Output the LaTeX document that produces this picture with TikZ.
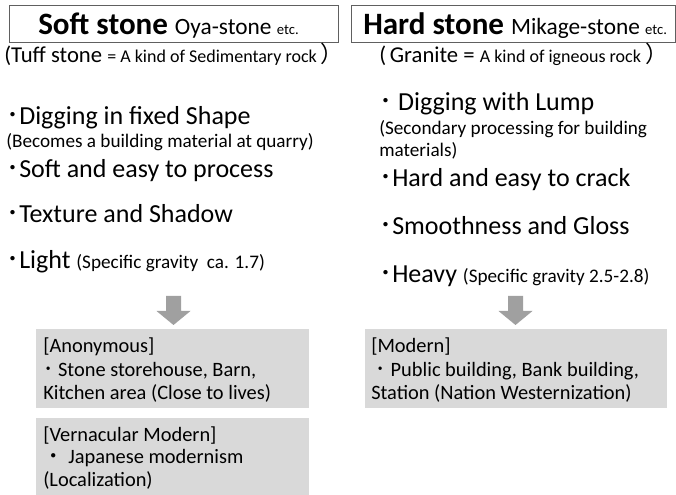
\documentclass[tikz,border=0pt]{standalone}
\usepackage{fontspec}
\setmainfont{Carlito}
\newfontfamily\cjk{Noto Sans CJK JP}
\definecolor{boxgray}{HTML}{D9D9D9}
\definecolor{arrowgray}{HTML}{A0A0A0}
\definecolor{framegray}{HTML}{606060}
\newcommand{\hdot}{{\cjk ･}}
\newcommand{\fdot}{{\cjk ・}}
\begin{document}
\begin{tikzpicture}[x=0.75pt,y=-0.75pt,
  txt/.style={inner sep=0pt, anchor=base west},
  main/.style={txt, font=\fontsize{19.5}{23}\selectfont},
  sub/.style={txt, font=\fontsize{14.4}{17}\selectfont},
  btext/.style={txt, font=\fontsize{15.3}{18}\selectfont},
  grayblock/.style={fill=boxgray, draw=none, inner sep=0pt, anchor=north west, rectangle},
  titleframe/.style={draw=framegray, line width=0.9pt, inner sep=0pt, anchor=north west, rectangle},
  blockarrow/.style={fill=arrowgray, draw=none}]
\useasboundingbox (0,0) rectangle (676,495);
\fill[white] (0,0) rectangle (676,495);

% title frames
\node[titleframe, minimum width=246.75pt, minimum height=27.75pt] (lframe) at (8.5,5) {};
\node[titleframe, minimum width=243pt, minimum height=27.75pt] (rframe) at (351,5) {};
\node[txt] (ltitle) at (38,35) {{\fontsize{23.3}{26}\selectfont\bfseries Soft stone }{\fontsize{17.5}{20}\selectfont Oya-stone }{\fontsize{11}{13}\selectfont etc.}};
\node[txt] (rtitle) at (363,35) {{\fontsize{23.3}{26}\selectfont\bfseries Hard stone }{\fontsize{17.5}{20}\selectfont Mikage-stone }{\fontsize{11}{13}\selectfont etc.}};

% subtitles
\node[txt] (lsub) at (4,63) {{\fontsize{17}{20}\selectfont(Tuff stone }{\fontsize{13.5}{16}\selectfont = A kind of Sedimentary rock }{\fontsize{17}{20}\selectfont\cjk ）}};
\node[txt] (rsub) at (379,63) {{\fontsize{17}{20}\selectfont(\,Granite = }{\fontsize{13.5}{16}\selectfont A kind of igneous rock }{\fontsize{17}{20}\selectfont\cjk ）}};

% left column
\node[main] (l1) at (6,125) {\hdot Digging in fixed Shape};
\node[sub] (l1s) at (6,148) {(Becomes a building material at quarry)};
\node[main] (l2) at (6,178) {\hdot Soft and easy to process};
\node[main] (l3) at (6,223) {\hdot Texture and Shadow};
\node[main] (l4) at (6,269) {\hdot Light {\fontsize{14.4}{17}\selectfont (Specific gravity\ \ ca. 1.7)}};

% right column
\node[main] (r1) at (379,111) {\hdot\ Digging with Lump};
\node[sub] (r1s) at (379,135) {(Secondary processing for building};
\node[sub] (r1t) at (379,157) {materials)};
\node[main] (r2) at (379,187) {\hdot Hard and easy to crack};
\node[main] (r3) at (379,235) {\hdot Smoothness and Gloss};
\node[main] (r4) at (379,283) {\hdot Heavy {\fontsize{14.4}{17}\selectfont (Specific gravity 2.5-2.8)}};

% arrows
\coordinate (la) at (173.5,296);
\coordinate (ra) at (515.5,296);
\foreach \a in {la,ra}{
  \fill[blockarrow] ([shift={(-7.5,0)}]\a) -- ([shift={(7.5,0)}]\a) -- ([shift={(7.5,15)}]\a) -- ([shift={(17,15)}]\a) -- ([shift={(0,29)}]\a) -- ([shift={(-17,15)}]\a) -- ([shift={(-7.5,15)}]\a) -- cycle;
}

% gray blocks
\node[grayblock, minimum width=204.75pt, minimum height=59.25pt] (b1) at (36,329) {};
\node[grayblock, minimum width=204.75pt, minimum height=57.75pt] (b2) at (36,418) {};
\node[grayblock, minimum width=226.5pt, minimum height=59.25pt] (b3) at (365,329) {};

\node[btext] (b1a) at (43,353) {[Anonymous]};
\node[btext] (b1b) at (43,377) {\hdot\ Stone storehouse, Barn,};
\node[btext] (b1c) at (43,400) {Kitchen area (Close to lives)};
\node[btext] (b2a) at (43,442) {[Vernacular Modern]};
\node[btext] (b2b) at (43,464) {\fdot\ Japanese modernism};
\node[btext] (b2c) at (43,487) {(Localization)};
\node[btext] (b3a) at (371,353) {[Modern]};
\node[btext] (b3b) at (371,377) {\ \hdot\ Public building, Bank building,};
\node[btext] (b3c) at (371,400) {Station (Nation Westernization)};
\end{tikzpicture}
\end{document}
